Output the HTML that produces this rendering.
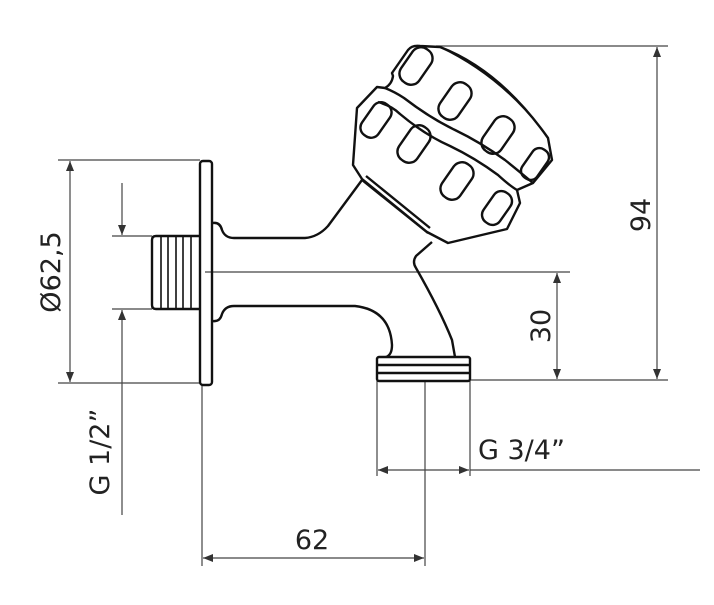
<!DOCTYPE html>
<html><head><style>body{margin:0;background:#fff}</style></head><body>
<svg width="714" height="600" viewBox="0 0 714 600" xmlns="http://www.w3.org/2000/svg">
<defs>
<marker id="a" viewBox="0 0 10 10" refX="10" refY="5" markerWidth="12" markerHeight="10" markerUnits="userSpaceOnUse" orient="auto-start-reverse"><path d="M0,1 L10,5 L0,9 z" fill="#333"/></marker>
</defs>
<g stroke="#444" stroke-width="1.2" fill="none">
<line x1="58" y1="160" x2="200" y2="160"/>
<line x1="58" y1="383" x2="200" y2="383"/>
<line x1="112" y1="236" x2="152" y2="236"/>
<line x1="112" y1="309" x2="152" y2="309"/>
<line x1="205" y1="272" x2="570" y2="272"/>
<line x1="470" y1="380" x2="668" y2="380"/>
<line x1="436" y1="46" x2="668" y2="46"/>
<line x1="470" y1="470" x2="700" y2="470"/>
<line x1="377" y1="381" x2="377" y2="476"/>
<line x1="470" y1="381" x2="470" y2="476"/>
<line x1="202" y1="385" x2="202" y2="566"/>
<line x1="425" y1="381" x2="425" y2="566"/>
<line x1="70" y1="161" x2="70" y2="382" marker-start="url(#a)" marker-end="url(#a)"/>
<line x1="122" y1="183" x2="122" y2="235" marker-end="url(#a)"/>
<line x1="122" y1="515" x2="122" y2="310" marker-end="url(#a)"/>
<line x1="557" y1="273" x2="557" y2="379" marker-start="url(#a)" marker-end="url(#a)"/>
<line x1="657" y1="47" x2="657" y2="379" marker-start="url(#a)" marker-end="url(#a)"/>
<line x1="378" y1="470" x2="469" y2="470" marker-start="url(#a)" marker-end="url(#a)"/>
<line x1="203" y1="558" x2="424" y2="558" marker-start="url(#a)" marker-end="url(#a)"/>
</g>
<g stroke="#111" stroke-width="2.4" fill="none" stroke-linejoin="round">
<rect x="200" y="161" width="12" height="224" rx="3"/>
<path d="M200,236 L156,236 Q152,236 152,240 L152,305 Q152,309 156,309 L200,309"/>
<g stroke-width="1.6"><line x1="161" y1="237" x2="161" y2="308"/><line x1="168" y1="237" x2="168" y2="308"/><line x1="176" y1="237" x2="176" y2="308"/><line x1="183" y1="237" x2="183" y2="308"/><line x1="191" y1="237" x2="191" y2="308"/></g>
<path d="M213,223 Q220,222 222,230 Q225,238 234,238 L305,238 Q318,237 328,226 L362,180"/>
<path d="M213,321 Q220,322 222,314 Q225,306 234,306 L355,306 Q390,310 392,345 Q392,355 386,357"/>
<path d="M432,242 L416,256 Q412,262 416,268 Q440,310 452,340 L455,357"/>
<path d="M362,180 L428,233 M366,176 L430,228"/>
<rect x="377" y="357" width="93" height="24" rx="2"/>
<line x1="378" y1="365" x2="469" y2="365"/><line x1="378" y1="373" x2="469" y2="373"/>
<path d="M362,179 L353,165 L357,108 L377,87 L385,88 Q392,84 393,76 L392,73 L408,50 Q412,45 420,46 L440,47 Q500,70 548,138 L552,160 L533,183 L517,190 L520,203 L507,229 L448,243 L427,232 Z"/>
<path d="M440,47 Q505,78 548,138" stroke-width="1.6"/>
<path d="M385,88 Q395,92 404,98 Q430,118 455,130 Q480,142 505,160 Q520,172 533,183"/>
<path d="M378,102 Q392,106 400,114 Q425,135 450,146 Q475,158 498,175 Q510,186 517,190"/>
<g transform="translate(416,66) rotate(35)"><rect x="-11" y="-20" width="22" height="40" rx="10"/></g>
<g transform="translate(455,101) rotate(35)"><rect x="-11" y="-20" width="22" height="40" rx="10"/></g>
<g transform="translate(498,135) rotate(35)"><rect x="-11" y="-20" width="22" height="40" rx="10"/></g>
<g transform="translate(535,164) rotate(35)"><rect x="-9" y="-17" width="18" height="34" rx="8"/></g>
<g transform="translate(376,120) rotate(35)"><rect x="-10" y="-19" width="20" height="38" rx="9"/></g>
<g transform="translate(414,144) rotate(35)"><rect x="-11" y="-20" width="22" height="40" rx="10"/></g>
<g transform="translate(457,181) rotate(35)"><rect x="-11" y="-20" width="22" height="40" rx="10"/></g>
<g transform="translate(497,208) rotate(35)"><rect x="-10" y="-18" width="20" height="36" rx="9"/></g>
</g>
<g font-family="DejaVu Sans, sans-serif" font-size="27" fill="#222">
<text transform="translate(60,272) rotate(-90)" text-anchor="middle">Ø62,5</text>
<text transform="translate(109,452) rotate(-90)" text-anchor="middle">G 1/2”</text>
<text transform="translate(550,326) rotate(-90)" text-anchor="middle">30</text>
<text transform="translate(650,215) rotate(-90)" text-anchor="middle">94</text>
<text x="478" y="459">G 3/4”</text>
<text x="312" y="549" text-anchor="middle">62</text>
</g>
</svg>
</body></html>
